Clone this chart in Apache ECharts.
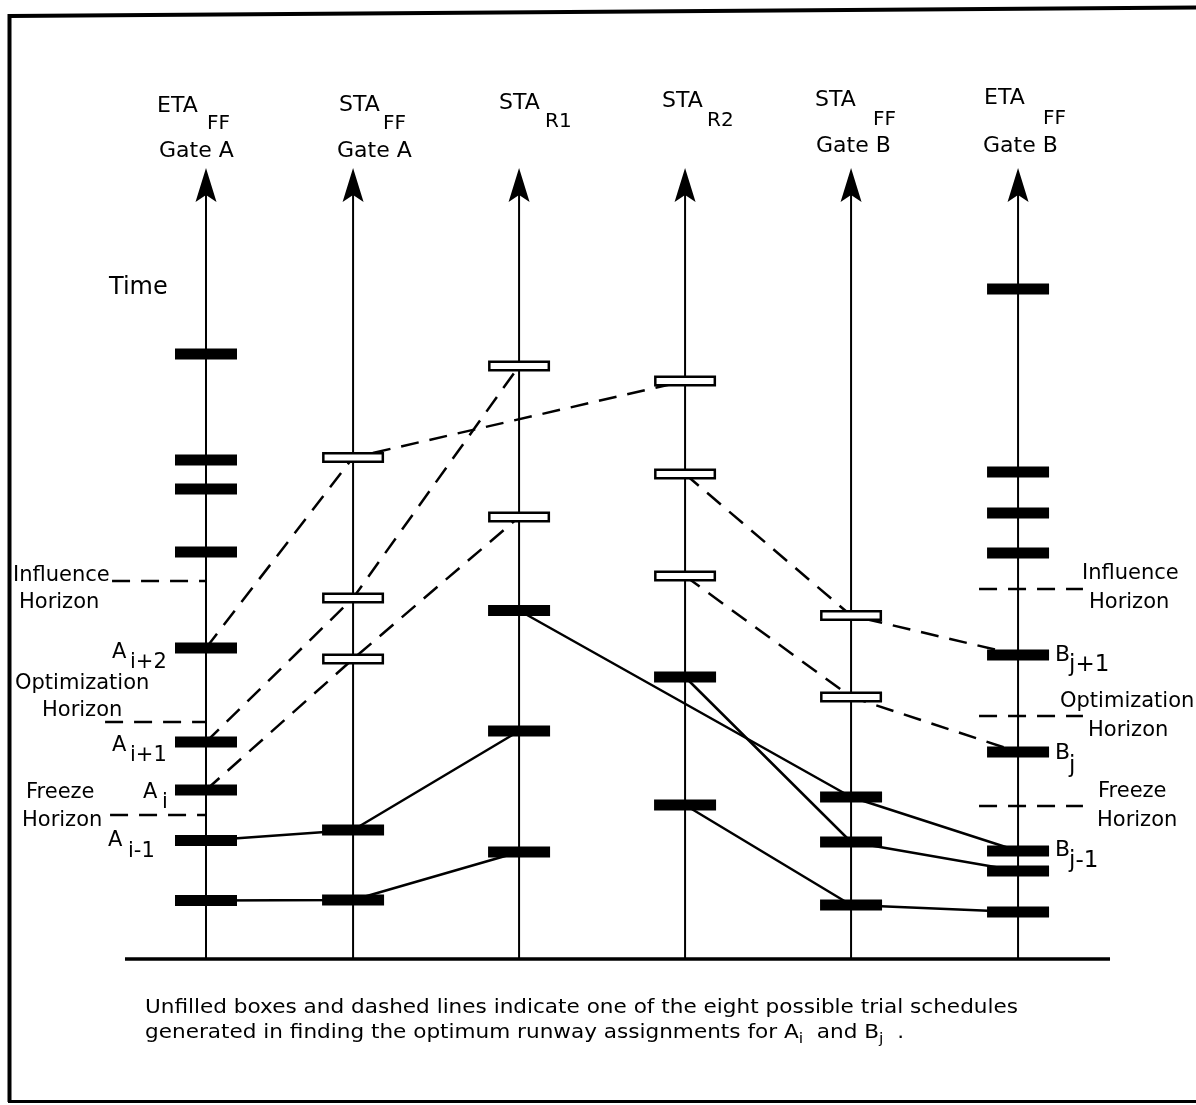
<!DOCTYPE html>
<html>
<head>
<meta charset="utf-8">
<title>Trial runway schedule</title>
<script src="https://cdn.jsdelivr.net/npm/echarts@6/dist/echarts.min.js"></script>
<style>
  html, body { margin: 0; padding: 0; background: #fff; }
  #chart { width: 1196px; height: 1105px; }
</style>
</head>
<body>
<div id="chart"></div>
<script>
// time lines, left to right (x in column units, time upward)
const columnNames = ['ETA FF Gate A', 'STA FF Gate A', 'STA R1', 'STA R2', 'STA FF Gate B', 'ETA FF Gate B'];
const columnPos = [0, 0.886, 1.886, 2.886, 3.886, 4.892];
const axisTop = 79.1;
const baselineRange = [-0.488, 5.446];

// filled boxes on each time line
const filledTimes = [
  [60.5, 49.9, 47.0, 40.7, 31.1, 21.7, 16.9, 11.85, 5.85],
  [12.9, 5.9],
  [34.85, 22.8, 10.7],
  [28.2, 15.4],
  [16.2, 11.7, 5.4],
  [67.0, 48.7, 44.6, 40.6, 30.4, 20.7, 10.8, 8.8, 4.7]
];

// unfilled boxes = one trial schedule
const trialTimes = [
  [],
  [50.15, 36.1, 30.0],
  [59.3, 44.2],
  [57.8, 48.5, 38.3],
  [34.35, 26.2],
  []
];

// links as [column index, time]
const solidPaths = [
  [[0, 11.85], [1, 12.9], [2, 22.8]],
  [[0, 5.85], [1, 5.9], [2, 10.7]],
  [[2, 34.85], [4, 16.2], [5, 10.8]],
  [[3, 28.2], [4, 11.7], [5, 8.8]],
  [[3, 15.4], [4, 5.4], [5, 4.7]]
];
const dashedPaths = [
  [[0, 31.1], [1, 50.15], [3, 57.8]],
  [[0, 21.7], [1, 36.1], [2, 59.3]],
  [[0, 16.9], [1, 30.0], [2, 44.2]],
  [[3, 48.5], [4, 34.35], [5, 30.4]],
  [[3, 38.3], [4, 26.2], [5, 20.7]]
];

// horizons (Influence, Optimization, Freeze)
const horizonNames = ['Influence', 'Optimization', 'Freeze'];
const horizonGateA = [37.8, 23.7, 14.4];
const horizonGateB = [37.0, 24.3, 15.3];
const horizonStartA = [-0.566, -0.608, -0.578];
const horizonSpanB = [4.657, 5.283];

const chart = echarts.init(document.getElementById('chart'));
const FONT = '"DejaVu Sans", "Noto Sans", sans-serif';
const dash = [18, 11];

const series = [];

// vertical time lines + arrow heads
columnPos.forEach((x) => {
  series.push({
    type: 'line', data: [[x, 0], [x, axisTop - 1.5]], symbol: 'none',
    lineStyle: { color: '#000', width: 2 }, z: 1, silent: true
  });
});
series.push({
  type: 'scatter', data: columnPos.map((x) => [x, axisTop]),
  symbol: 'path://M0,0L10.5,34L0,27L-10.5,34Z', symbolSize: [21, 34], symbolOffset: [0, '50%'],
  itemStyle: { color: '#000', opacity: 1 }, z: 1, silent: true
});
// base line
series.push({
  type: 'line', data: [[baselineRange[0], 0], [baselineRange[1], 0]], symbol: 'none',
  lineStyle: { color: '#000', width: 3.5 }, z: 1, silent: true
});

// horizons
horizonNames.forEach((name, i) => {
  series.push({
    type: 'line', name: name + ' A', data: [[horizonStartA[i], horizonGateA[i]], [columnPos[0], horizonGateA[i]]],
    symbol: 'none', lineStyle: { color: '#000', width: 2.5, type: dash }, z: 2, silent: true
  });
  series.push({
    type: 'line', name: name + ' B', data: [[horizonSpanB[0], horizonGateB[i]], [horizonSpanB[1], horizonGateB[i]]],
    symbol: 'none', lineStyle: { color: '#000', width: 2.5, type: dash }, z: 2, silent: true
  });
});

// links
solidPaths.forEach((p) => {
  series.push({
    type: 'line', data: p.map((d) => [columnPos[d[0]], d[1]]), symbol: 'none',
    lineStyle: { color: '#000', width: 2.5 }, z: 2, silent: true
  });
});
dashedPaths.forEach((p) => {
  series.push({
    type: 'line', data: p.map((d) => [columnPos[d[0]], d[1]]), symbol: 'none',
    lineStyle: { color: '#000', width: 2.5, type: dash }, z: 2, silent: true
  });
});

// boxes
const filledData = [];
filledTimes.forEach((arr, c) => arr.forEach((t) => filledData.push([columnPos[c], t])));
const trialData = [];
trialTimes.forEach((arr, c) => arr.forEach((t) => trialData.push([columnPos[c], t])));
series.push({
  type: 'scatter', data: filledData, symbol: 'rect', symbolSize: [62, 11],
  itemStyle: { color: '#000', opacity: 1 }, z: 5, silent: true
});
// unfilled: black outline box with a white inside
series.push({
  type: 'scatter', data: trialData, symbol: 'rect', symbolSize: [62, 11],
  itemStyle: { color: '#000', opacity: 1 }, z: 5, silent: true
});
series.push({
  type: 'scatter', data: trialData, symbol: 'rect', symbolSize: [57, 6],
  itemStyle: { color: '#fff', opacity: 1 }, z: 6, silent: true
});

// text helpers
function txt(text, x, y, size, extra) {
  return {
    type: 'text', x: x, y: y, z: 10, silent: true,
    scaleX: (extra && extra.scaleX) || 1,
    style: {
      text: text, fill: '#000', font: size + 'px ' + FONT,
      align: 'left', verticalAlign: 'middle', textAlign: 'left', textVerticalAlign: 'middle'
    }
  };
}

const graphics = [];
// frame
graphics.push({ type: 'polyline', shape: { points: [[9.5, 16], [1196, 7.5]] }, style: { stroke: '#000', lineWidth: 4, fill: null }, z: 10 });
graphics.push({ type: 'polyline', shape: { points: [[9.5, 14], [9.5, 1102]] }, style: { stroke: '#000', lineWidth: 4, fill: null }, z: 10 });
graphics.push({ type: 'polyline', shape: { points: [[8, 1101.5], [1196, 1101.5]] }, style: { stroke: '#000', lineWidth: 3, fill: null }, z: 10 });

// column headers
graphics.push(txt('ETA', 157, 106, 22), txt('FF', 207, 124, 20), txt('Gate A', 159, 151, 22));
graphics.push(txt('STA', 339, 105, 22), txt('FF', 383, 124, 20), txt('Gate A', 337, 151, 22));
graphics.push(txt('STA', 499, 103, 22), txt('R1', 545, 122, 20));
graphics.push(txt('STA', 662, 101, 22), txt('R2', 707, 121, 20));
graphics.push(txt('STA', 815, 100, 22), txt('FF', 873, 120, 20), txt('Gate B', 816, 146, 22));
graphics.push(txt('ETA', 984, 98, 22), txt('FF', 1043, 119, 20), txt('Gate B', 983, 146, 22));
graphics.push(txt('Time', 109, 288, 24));

// horizon labels, gate A side
graphics.push(txt('Influence', 13, 576, 21), txt('Horizon', 19, 603, 21));
graphics.push(txt('Optimization', 15, 684, 21), txt('Horizon', 42, 711, 21));
graphics.push(txt('Freeze', 26, 793, 21), txt('Horizon', 22, 821, 21));
// horizon labels, gate B side
graphics.push(txt('Influence', 1082, 574, 21), txt('Horizon', 1089, 603, 21));
graphics.push(txt('Optimization', 1060, 702, 21), txt('Horizon', 1088, 731, 21));
graphics.push(txt('Freeze', 1098, 792, 21), txt('Horizon', 1097, 821, 21));

// aircraft labels
graphics.push(txt('A', 112, 653, 21), txt('i+2', 130, 663, 21));
graphics.push(txt('A', 112, 746, 21), txt('i+1', 130, 756, 21));
graphics.push(txt('A', 143, 793, 21), txt('i', 162, 803, 21));
graphics.push(txt('A', 108, 841, 21), txt('i-1', 128, 852, 21));
graphics.push(txt('B', 1055, 655, 22), txt('j+1', 1069, 665, 23));
graphics.push(txt('B', 1055, 753, 22), txt('j', 1069, 766, 23));
graphics.push(txt('B', 1055, 850, 22), txt('j-1', 1069, 861, 23));

// caption
const ctx = document.createElement('canvas').getContext('2d');
function measure(s, size) { ctx.font = size + 'px ' + FONT; return ctx.measureText(s).width; }
const cap1 = 'Unfilled boxes and dashed lines indicate one of the eight possible trial schedules';
const capSize = 19;
const sx = 873 / measure(cap1, capSize);
graphics.push(txt(cap1, 145, 1008, capSize, { scaleX: sx }));
const cap2 = [
  ['generated in finding the optimum runway assignments for ', capSize, 0],
  ['A', capSize, 0], ['i', 14, 6], ['  and ', capSize, 0],
  ['B', capSize, 0], ['j', 14, 6], ['  .', capSize, 0]
];
let cx = 145;
cap2.forEach((p) => {
  graphics.push(txt(p[0], cx, 1033 + p[2], p[1], { scaleX: sx }));
  cx += measure(p[0], p[1]) * sx;
});

chart.setOption({
  animation: false,
  backgroundColor: '#fff',
  grid: { left: 0, right: 0, top: 0, bottom: 0 },
  xAxis: { type: 'value', min: -1.241, max: 5.964, show: false },
  yAxis: { type: 'value', min: -14.6, max: 95.9, show: false },
  series: series,
  graphic: graphics
});
</script>
</body>
</html>
